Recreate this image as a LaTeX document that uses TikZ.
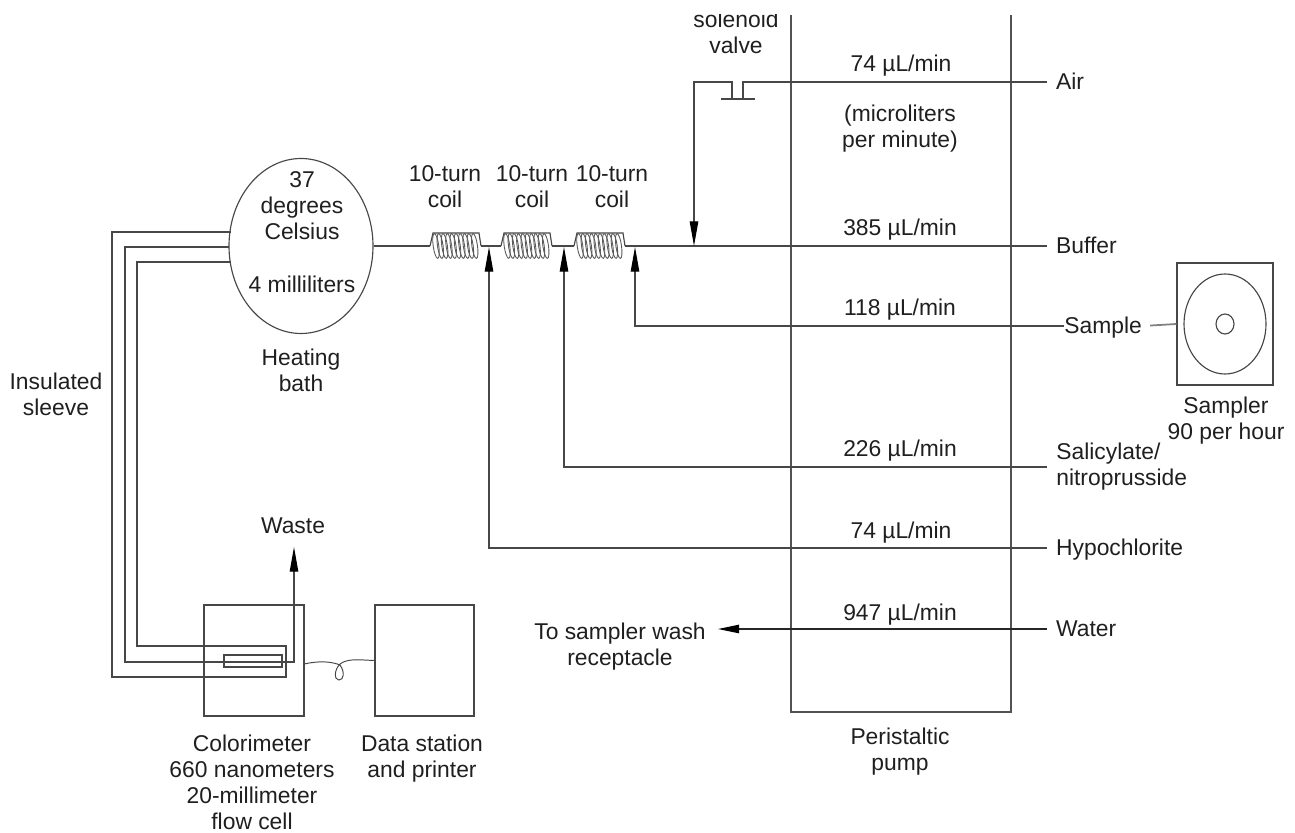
\documentclass[tikz,border=0pt]{standalone}
\usepackage{fontspec}
\setmainfont{Liberation Sans}
\usetikzlibrary{arrows.meta,shapes.geometric}

\tikzset{
    lbl/.style={font=\fontsize{13}{14.8}\selectfont, text=black!88, align=center, inner sep=0pt},
    feed/.style={lbl, anchor=west, inner xsep=5pt, text height=9pt, text depth=0pt},
    pipe/.style={draw=black!72, line width=0.65pt},
    flowtip/.style={-{Triangle[length=14pt,width=4.8pt,color=black,fill=black]}, pipe},
    unit/.style={draw=black!72, line width=0.65pt, inner sep=0pt},
    tencoil/.pic={
        \draw[pipe] (0,0) -- (3,-13) -- (49,-13) -- (51,0);
        \foreach \i in {0,...,9}
            \draw[draw=black!65, line width=0.5pt, rotate around={8:({6+\i*4.3},0)}] ({6+\i*4.3},0) ellipse (2.8 and 12.5);
    }
}

\begin{document}
\begin{tikzpicture}[x=0.2mm,y=-0.2mm]
    \useasboundingbox (0,0) rectangle (1295,833);

    % Pump, open at the top
    \draw[draw=black!68, line width=0.9pt] (791,15) -- (791,712) -- (1011,712) -- (1011,15);
    \node[lbl] (pumplbl) at (900,752) {Peristaltic\\pump};

    % Flow rates
    \node[lbl] (rateair) at (901,66) {74 µL/min};
    \node[lbl] (unitlbl) at (900,129) {(microliters\\per minute)};
    \node[lbl] (ratebuffer) at (900,230) {385 µL/min};
    \node[lbl] (ratesample) at (900,310) {118 µL/min};
    \node[lbl] (ratesalic) at (900,451) {226 µL/min};
    \node[lbl] (ratehypo) at (901,533) {74 µL/min};
    \node[lbl] (ratewater) at (900,615) {947 µL/min};

    % Feed names
    \node[feed] (air) at (1047,82) {Air};
    \node[feed] (buffer) at (1047,246) {Buffer};
    \node[feed, inner xsep=0pt] (sample) at (1064,326) {Sample};
    \node[lbl, anchor=west, align=left] (salic) at (1056,467) {Salicylate/\\nitroprusside};
    \node[feed] (hypo) at (1047,548) {Hypochlorite};
    \node[feed] (water) at (1047,629) {Water};
    \coordinate (salicin) at (1047,467);

    % Sampler
    \node[unit, minimum width=19.2mm, minimum height=24.4mm] (sampler) at (1225,324) {};
    \node[unit, ellipse, minimum width=16.4mm, minimum height=20mm] (tray) at (1225,324) {};
    \node[unit, ellipse, minimum width=3.6mm, minimum height=4mm] (hub) at (1225,324) {};
    \node[lbl] (samplerlbl) at (1226,421) {Sampler\\90 per hour};
    \draw[pipe, draw=black!50, line width=1pt, shorten <=4.5pt] (sample.east) -- (sampler.west);

    % Heating bath
    \node[unit, ellipse, minimum width=28.8mm, minimum height=35mm] (bath) at (301,246) {};
    \node[lbl] (bathtop) at (302,206) {37\\degrees\\Celsius};
    \node[lbl] (bathvol) at (302,284) {4 milliliters};
    \node[lbl] (bathlbl) at (301,370) {Heating\\bath};

    % Coils
    \coordinate (coilA) at (430,246);
    \coordinate (coilB) at (501,246);
    \coordinate (coilC) at (574,246);
    \coordinate (coilAout) at (481,246);
    \coordinate (coilBout) at (552,246);
    \coordinate (coilCout) at (625,246);
    \pic at (coilA) {tencoil};
    \pic at (coilB) {tencoil};
    \pic at (coilC) {tencoil};
    \node[lbl] (coilAlbl) at (445,187) {10-turn\\coil};
    \node[lbl] (coilBlbl) at (532,187) {10-turn\\coil};
    \node[lbl] (coilClbl) at (612,187) {10-turn\\coil};
    \draw[pipe] (bath.east) -- (coilA);
    \draw[pipe] (coilAout) -- (coilB);
    \draw[pipe] (coilBout) -- (coilC);
    \draw[pipe] (coilCout) -- (buffer.west);

    % Solenoid valve on the air line
    \begin{scope}
        \clip (0,15) rectangle (1295,833);
        \node[lbl] (valvelbl) at (736,32) {solenoid\\valve};
    \end{scope}
    \coordinate (valveL) at (732,99);
    \coordinate (valveR) at (743,99);
    \coordinate (airjoin) at (694,246);
    \draw[pipe] (air.west) -| (valveR);
    \draw[pipe] (721,99) -- (755,99);
    \draw[flowtip] (valveL) |- (694,82) -- (airjoin);

    % Reagent lines
    \coordinate (samplejoin) at (635,247);
    \coordinate (salicjoin) at (564,247);
    \coordinate (hypojoin) at (489,247);
    \draw[flowtip] (sample.west) -| (samplejoin);
    \draw[flowtip] (salicin) -| (salicjoin);
    \draw[flowtip] (hypo.west) -| (hypojoin);

    % Water to the wash receptacle
    \node[lbl] (washlbl) at (620,647) {To sampler wash\\receptacle};
    \coordinate (washtip) at (718,629);
    \draw[-{Triangle[length=12pt,width=4.8pt,color=black,fill=black]}, pipe, draw=black!85] (water.west) -- (washtip);

    % Colorimeter and data station
    \node[unit, minimum width=20mm, minimum height=22.2mm] (colorim) at (254,660.5) {};
    \node[unit, minimum width=19.8mm, minimum height=22.2mm] (station) at (424.5,660.5) {};
    \node[unit, minimum width=11.6mm, minimum height=2.4mm] (cell) at (253,661) {};
    \node[lbl] (colorimlbl) at (252,782) {Colorimeter\\660 nanometers\\20-millimeter\\flow cell};
    \node[lbl] (stationlbl) at (422,759) {Data station\\and printer};
    \coordinate (cableA) at (304,664);
    \draw[draw=black!72, line width=0.55pt] (cableA) .. controls (318,661) and (330,661) .. (340,665)
        .. controls (345,672) and (344,680) .. (339,680)
        .. controls (334,680) and (334,670) .. (340,664)
        .. controls (348,658) and (360,660) .. (station.west);

    % Insulated sleeve
    \coordinate (sleeveA) at (231,232);
    \coordinate (sleeveB) at (229,247);
    \coordinate (sleeveC) at (231,262);
    \coordinate (wastetip) at (294,547);
    \draw[pipe] (sleeveA) -- (112,232) -- (112,677) -- (286,677) -- (286,646) -- (137,646) -- (137,262) -- (sleeveC);
    \draw[flowtip] (sleeveB) -- (125,247) -- (125,662) -- (294,662) -- (wastetip);
    \node[lbl] (wastelbl) at (293,526) {Waste};
    \node[lbl] (sleevelbl) at (56,394) {Insulated\\sleeve};
\end{tikzpicture}
\end{document}
